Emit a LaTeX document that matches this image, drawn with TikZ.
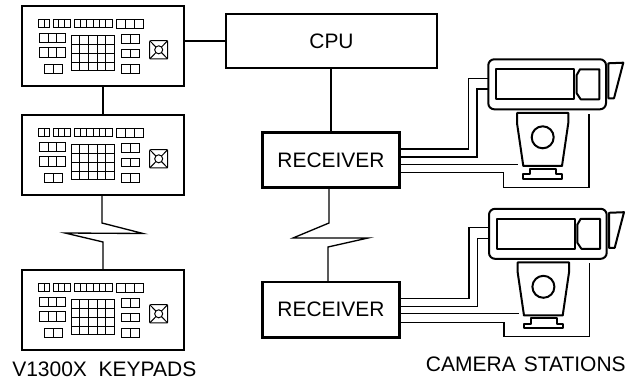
\documentclass[tikz,border=0pt]{standalone}
\usepackage{fontspec}
\setmainfont{Liberation Sans}
\tikzset{
  px/.style={x=0.75pt,y=-0.75pt},
  thickbox/.style={draw=black,line width=1.8pt,fill=white,inner sep=0pt},
  kpbox/.style={thickbox,minimum width=121.5pt,minimum height=60pt},
  cpubox/.style={thickbox,minimum width=158.25pt,minimum height=40.1pt},
  rxbox/.style={thickbox,minimum width=102.5pt,minimum height=41.5pt},
  link/.style={draw=black,line width=1pt,line join=miter},
  wire/.style={draw=black,line width=0.8pt},
  key/.style={draw=black,line width=0.75pt},
  campart/.style={draw=black,line width=1.5pt,line join=round},
  boxtext/.style={font=\fontsize{15.7pt}{18pt}\selectfont},
  captiontext/.style={font=\fontsize{15.75pt}{19pt}\selectfont,inner sep=0pt,anchor=base west},
  keypad/.pic={
    \begin{scope}[key]
      \draw (16.3,14) rectangle (27.7,22); \draw (22,14)--(22,22);
      \draw (31.3,14) rectangle (48,22); \draw (36.9,14)--(36.9,22); \draw (42.4,14)--(42.4,22);
      \draw (52.3,14) rectangle (90,22);
      \foreach \k in {1,...,5} {\draw (52.3+\k*6.28,14)--(52.3+\k*6.28,22);}
      \draw (94.7,13.5) rectangle (121.7,22.5); \draw (103.7,13.5)--(103.7,22.5); \draw (112.7,13.5)--(112.7,22.5);
      \draw (17.3,27.7) rectangle (43.7,37); \draw (26.1,27.7)--(26.1,37); \draw (34.9,27.7)--(34.9,37);
      \draw (17.3,42) rectangle (43.7,51.3); \draw (26.1,42)--(26.1,51.3); \draw (34.9,42)--(34.9,51.3);
      \draw (22.7,58.7) rectangle (40.7,68); \draw (31.7,58.7)--(31.7,68);
      \draw (49,30) rectangle (92.7,65);
      \foreach \k in {1,...,4} {\draw (49+\k*8.74,30)--(49+\k*8.74,65);}
      \foreach \k in {1,...,3} {\draw (49,30+\k*8.75)--(92.7,30+\k*8.75);}
      \foreach \yy in {29,43.3,59} {\draw (99.3,\yy) rectangle (117.3,\yy+8.7); \draw (108.3,\yy)--(108.3,\yy+8.7);}
      \draw[rounded corners=0.8pt] (127.7,34.7) rectangle (145.7,53);
      \draw (136.7,43.8) circle (4);
      \draw (127.7,34.7)--(133.9,41) (145.7,34.7)--(139.5,41) (127.7,53)--(133.9,46.6) (145.7,53)--(139.5,46.6);
    \end{scope}
  },
  camera/.pic={
    \draw[campart,rounded corners=4.5pt] (488.3,59.3) rectangle (606,109.3);
    \draw[campart] (496,69.3) rectangle (574.3,99.3);
    \draw[campart] (580,69.3)--(599.3,69.3)--(599.3,99.3)--(580.7,99.3)--(576.7,93.3)--(576.7,75)--cycle;
    \draw[campart] (608.3,63.3)--(623.3,62.7)--(614,98.3)--(608.3,98.3)--cycle;
    \draw[campart] (517,113)--(568.3,113)--(568.3,123)--(562,166)--(523.3,166)--(517,123)--cycle;
    \draw[campart] (542.7,137.3) circle (11);
    \draw[campart] (530,168.7)--(556,168.7)--(556,174.3)--(562.3,174.3)--(562.3,178.7)--(523.3,178.7)--(523.3,174.3)--(530,174.3)--cycle;
    \coordinate (-a1) at (468.3,149); \coordinate (-a2) at (468.3,78.3); \coordinate (-a3) at (488,78.3);
    \coordinate (-b1) at (477,157);   \coordinate (-b2) at (477,89);     \coordinate (-b3) at (488,89);
    \coordinate (-c1) at (518,164.3);
    \coordinate (-d1) at (503.3,172.7); \coordinate (-d2) at (503.3,187.3); \coordinate (-d3) at (589,187.3); \coordinate (-d4) at (589,114);
  }
}
\begin{document}
\begin{tikzpicture}[px]
\useasboundingbox (0,0) rectangle (629,381);
\fill[white] (0,0) rectangle (629,381);
% boxes
\node[kpbox] (kpA) at (103,46) {};
\node[kpbox] (kpB) at (103,155) {};
\node[kpbox] (kpC) at (103,310) {};
\pic at (kpA.center) [shift={(-81,-40)}] {keypad};
\pic at (kpB.center) [shift={(-81,-40)}] {keypad};
\pic at (kpC.center) [shift={(-81,-40)}] {keypad};
\node[cpubox,boxtext] (cpu) at (331.5,41) {CPU};
\node[rxbox,boxtext] (rxA) at (331,160) {RECEIVER};
\node[rxbox,boxtext] (rxB) at (331,309.75) {RECEIVER};
% keypad links
\draw[link] (kpA.south) -- (kpB.north);
\draw[link] (kpA.east |- cpu.west) -- (cpu.west);
\coordinate (kz1) at (102,223); \coordinate (kz2) at (143,233.5);
\coordinate (kz3) at (65,233); \coordinate (kz4) at (103,242);
\draw[link] (kpB.south -| kz1) -- (kz1) -- (kz2) -- (kz3) -- (kz4) -- (kpC.north -| kz4);
% receiver links
\draw[link] (cpu.south -| rxA.north) -- (rxA.north);
\coordinate (rz1) at (329,223); \coordinate (rz2) at (293,238);
\coordinate (rz3) at (368,238); \coordinate (rz4) at (328,247);
\draw[link] (rxA.south -| rz1) -- (rz1) -- (rz2) -- (rz3) -- (rz4) -- (rxB.north -| rz4);
% cameras
\pic (camA) at (0,0) {camera};
\pic (camB) at (0.7,149.5) {camera};
\foreach \rx/\cam in {rxA/camA,rxB/camB} {
  \draw[wire] (\rx.east |- \cam-a1) -- (\cam-a1) -- (\cam-a2) -- (\cam-a3);
  \draw[wire] (\rx.east |- \cam-b1) -- (\cam-b1) -- (\cam-b2) -- (\cam-b3);
  \draw[wire] (\rx.east |- \cam-c1) -- (\cam-c1);
  \draw[wire] (\rx.east |- \cam-d1) -- (\cam-d1) -- (\cam-d2) -- (\cam-d3) -- (\cam-d4);
}
% captions
\node[captiontext] (capK) at (12,376.7) {V1300X\ \ KEYPADS};
\node[captiontext] (capC) at (425.7,372) {CAMERA\hspace{6pt}STATIONS};
\end{tikzpicture}
\end{document}
